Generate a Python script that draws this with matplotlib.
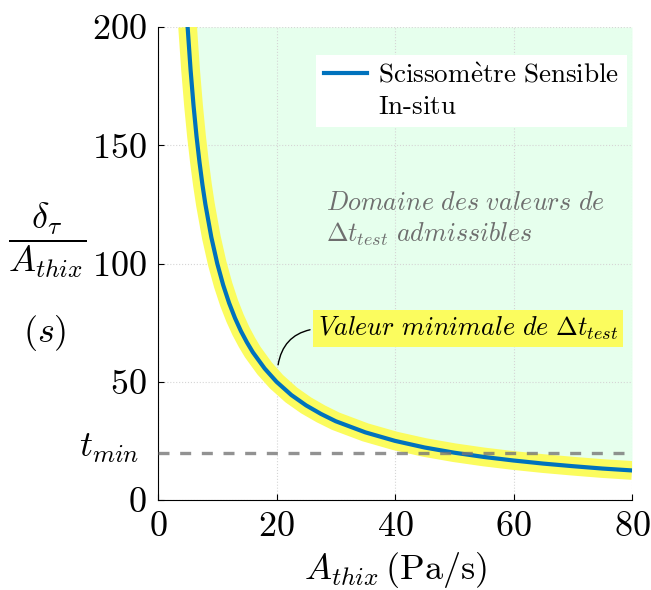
import matplotlib
matplotlib.use('Agg')
import matplotlib.pyplot as plt

plt.rcParams['mathtext.fontset'] = 'cm'
plt.rcParams['font.family'] = 'serif'
plt.rcParams['font.serif'] = ['cmr10', 'DejaVu Serif']
plt.rcParams['axes.formatter.use_mathtext'] = True

# valeurs
A_thix = [5, 5.5, 6, 6.5, 7, 7.5, 8, 9, 10, 11, 12, 13, 14, 15, 16, 18, 20, 22.5, 25,
          27.5, 30, 35, 40, 45, 50, 55, 60, 65, 70, 75, 80]
ratio = [200, 181.8, 166.7, 153.8, 142.9, 133.3, 125, 111.1, 100, 90.9, 83.3, 76.9,
         71.4, 66.7, 62.5, 55.6, 50, 44.4, 40, 36.4, 33.3, 28.6, 25, 22.2, 20, 18.2,
         16.7, 15.4, 14.3, 13.3, 12.5]
t_min = 20
xticks = [0, 20, 40, 60, 80]
yticks = [0, 50, 100, 150, 200]

fig = plt.figure(figsize=(6.51, 5.90), dpi=100)
ax = fig.add_axes([158/651, 1-500/590, 474/651, 473/590])

ax.fill_between(A_thix, ratio, 200, color='#e6ffed', lw=0, zorder=0)
ax.plot(A_thix, ratio, color='#fbfc5e', lw=13.5, solid_capstyle='butt', zorder=2)
ax.plot(A_thix, ratio, color='#0072BD', lw=3.0, zorder=3,
        label='$\\mathrm{Scissom\\grave{e}tre\\ Sensible}$')
ax.plot([], [], color='none', label='$\\mathrm{In}$-$\\mathrm{situ}$')
ax.axhline(t_min, color='#777777', alpha=0.8, lw=2.4, dashes=(3.3, 3.2), zorder=4)

ax.set_xlim(0, 80)
ax.set_ylim(0, 200)
ax.set_xticks(xticks)
ax.set_yticks(yticks)
ax.grid(True, ls=':', color='#d5d5d5', lw=0.8)
ax.set_axisbelow(True)
for s in ['top', 'right']:
    ax.spines[s].set_visible(False)
ax.tick_params(direction='in', length=4, labelsize=26, pad=8)

ax.set_xlabel('$A_{thix}\\,\\mathrm{(Pa/s)}$', fontsize=26, labelpad=5)

fig.text(47/651, 1-240/590, '$\\dfrac{\\delta_{\\tau}}{A_{thix}}$', fontsize=26,
         ha='center', va='center')
fig.text(45/651, 1-333/590, '$(s)$', fontsize=26, ha='center', va='center')

ax.text(-0.04, 22, '$t_{min}$', transform=ax.get_yaxis_transform(),
        fontsize=26, ha='right', va='center')

leg = ax.legend(loc='upper right', bbox_to_anchor=(0.99, 0.94), borderaxespad=0,
                fontsize=19.5, handlelength=1.6, handletextpad=0.4, labelspacing=0.25,
                borderpad=0.3, frameon=True, fancybox=False)
leg.get_frame().set_edgecolor('none')
leg.get_frame().set_facecolor('white')
leg.get_frame().set_alpha(1)

ax.text(28.4, 130.5, '$Domaine\\ des\\ valeurs\\ de$\n$\\Delta t_{test}\\ admissibles$',
        fontsize=18.7, color='#6e6e6e', ha='left', va='top', linespacing=1.25)

ax.annotate('$Valeur\\ minimale\\ de\\ \\Delta t_{test}$', xy=(20.2, 56), xytext=(27.0, 72.5),
            fontsize=18.8, ha='left', va='center',
            bbox=dict(boxstyle='square,pad=0.2', fc='#fbfc5e', ec='none'),
            arrowprops=dict(arrowstyle='-', color='black', lw=1, relpos=(0, 0.5),
                            connectionstyle='arc3,rad=0.4'))

fig.savefig('out.png', dpi=100)
